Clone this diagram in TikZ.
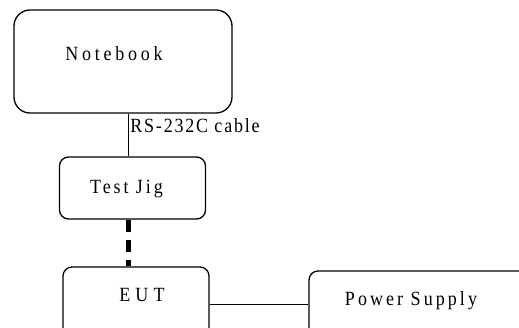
\documentclass[tikz,border=0pt]{standalone}
\usepackage{graphicx}
\usepackage{fontspec}
\setmainfont{Liberation Serif}
\newcommand{\lbl}[2][17]{\scalebox{1}[1.12]{\addfontfeature{LetterSpace=#1}#2}}

\begin{document}
\begin{tikzpicture}[x=1pt, y=-1pt, font=\fontsize{18}{21}\selectfont]
\tikzstyle{box}=[draw, rounded corners=9pt, line width=1.3pt, inner sep=0pt, minimum width=146pt, minimum height=62pt]
\tikzstyle{wire}=[line width=0.8pt]
\useasboundingbox (0,0) rectangle (519,328);
\node[box, rounded corners=16pt, minimum width=218pt, minimum height=103pt,
      label={[xshift=-9pt, yshift=7.5pt]center:\lbl[21]{Notebook}}] (nb)  at (123,61.5) {};
\node[box, label={[xshift=-6pt, yshift=-1pt]center:\lbl[16]{Test Jig}}]   (jig) at (132.5,188) {};
\node[box, minimum height=74pt,
      label={[xshift=6pt, yshift=9pt]center:\lbl[28]{EUT}}]              (eut) at (136,304) {};
\node[box, minimum width=222pt, minimum height=66pt,
      label={[xshift=-9pt, yshift=3pt]center:\lbl[17]{Power Supply}}]     (ps)  at (420,304) {};
\draw[wire] ([xshift=5pt]nb.south) -- node[pos=0.27, right, inner sep=2pt] (cbl) {\lbl[10]{RS-232C cable}} ([xshift=-4.5pt]jig.north);
\draw[line width=5pt, dash pattern=on 12pt off 8pt] ([xshift=-4.5pt]jig.south) -- ([xshift=-8pt]eut.north);
\draw[wire] (eut) -- (ps);
\end{tikzpicture}
\end{document}
